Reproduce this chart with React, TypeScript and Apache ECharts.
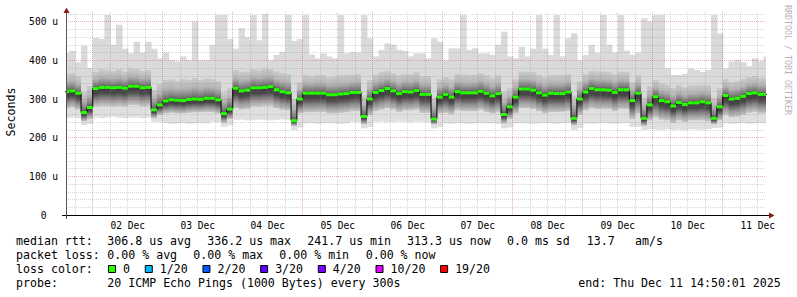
import React, { useEffect, useRef } from 'react';
import * as echarts from 'echarts';

// Time axis: hours since Dec 1 00:00 (2025). Graph spans Dec 1 14:50:01 .. Dec 11 14:50:01
const START_HOUR = 14.8336;
const END_HOUR = 254.8336;
const FIRST_BIN = 14; // first 2-hour bin starts Dec 1 14:00
const BIN_HOURS = 2;

// values in microseconds, one per 2-hour bin
const medianRtt = [
  319, 321, 315, 265, 278, 327, 330, 330, 329, 330, 328, 333, 333, 329, 330, 272, 285, 295, 298, 297, 296, 299, 300, 299, 302,
  302, 298, 262, 274, 328, 321, 323, 329, 329, 330, 332, 324, 319, 316, 244, 300, 315, 315, 315, 315, 311, 311, 313, 314,
  317, 317, 255, 300, 317, 322, 327, 321, 314, 319, 318, 322, 312, 312, 248, 305, 312, 305, 319, 316, 316, 316, 320, 315,
  308, 314, 260, 280, 305, 326, 326, 323, 316, 310, 315, 314, 314, 318, 250, 300, 318, 327, 324, 324, 323, 317, 324, 324,
  296, 315, 250, 285, 306, 296, 293, 282, 291, 286, 290, 290, 293, 290, 250, 280, 309, 300, 302, 307, 314, 316, 312, 312,
];
const maxRtt = [
  419, 425, 395, 438, 380, 458, 455, 517, 440, 492, 430, 418, 448, 420, 448, 430, 405, 420, 400, 397, 410, 400, 500, 400, 400,
  440, 517, 517, 455, 430, 483, 460, 517, 452, 520, 400, 414, 422, 517, 450, 455, 517, 415, 405, 418, 410, 405, 517, 418,
  422, 420, 517, 457, 410, 427, 444, 440, 427, 424, 410, 418, 418, 405, 457, 448, 400, 431, 431, 517, 427, 431, 418, 418,
  414, 440, 474, 410, 405, 435, 410, 430, 517, 430, 414, 517, 410, 457, 470, 400, 414, 440, 420, 517, 440, 420, 517, 425,
  414, 420, 509, 500, 517, 517, 380, 362, 362, 365, 379, 375, 370, 375, 517, 470, 379, 397, 401, 395, 385, 405, 398, 410,
];
const highRtt = [
  365, 368, 360, 320, 335, 372, 378, 375, 374, 378, 372, 380, 378, 374, 376, 325, 340, 350, 352, 348, 352, 350, 355, 350, 354,
  352, 348, 318, 330, 375, 370, 372, 378, 376, 380, 378, 372, 368, 365, 300, 345, 362, 360, 364, 362, 358, 360, 362, 362,
  364, 366, 310, 350, 364, 370, 374, 368, 362, 366, 366, 370, 360, 360, 305, 352, 358, 352, 366, 364, 362, 364, 368, 362,
  356, 362, 320, 330, 352, 372, 372, 370, 364, 358, 362, 362, 362, 366, 310, 348, 366, 374, 372, 372, 370, 365, 372, 370,
  345, 362, 305, 335, 350, 342, 338, 330, 338, 332, 336, 336, 338, 336, 305, 330, 352, 345, 348, 352, 358, 360, 356, 356,
];
const lowRtt = [
  275, 278, 272, 242, 248, 280, 282, 282, 280, 282, 280, 284, 284, 280, 282, 250, 258, 262, 264, 262, 262, 264, 265, 265, 266,
  265, 262, 238, 248, 276, 272, 274, 280, 280, 282, 282, 276, 272, 270, 230, 262, 265, 265, 266, 266, 262, 262, 264, 265,
  268, 268, 234, 258, 268, 272, 276, 272, 266, 270, 270, 272, 264, 264, 234, 262, 264, 260, 270, 268, 268, 268, 272, 266,
  262, 266, 236, 248, 262, 276, 276, 274, 268, 262, 266, 266, 266, 268, 232, 258, 270, 276, 274, 274, 274, 268, 274, 274,
  248, 262, 230, 244, 252, 246, 244, 238, 244, 240, 244, 244, 244, 242, 234, 244, 258, 252, 254, 258, 264, 266, 262, 262,
];
const minRtt = [
  250, 252, 250, 233, 236, 252, 250, 252, 254, 252, 250, 252, 252, 250, 252, 241, 241, 238, 236, 237, 238, 236, 237, 238, 237,
  241, 240, 228, 232, 246, 247, 245, 246, 247, 246, 245, 246, 247, 246, 220, 226, 237, 238, 236, 237, 238, 237, 236, 237,
  241, 240, 224, 228, 241, 242, 240, 241, 242, 241, 240, 242, 241, 240, 224, 228, 237, 236, 238, 237, 236, 237, 238, 237,
  237, 236, 224, 226, 237, 238, 237, 236, 237, 238, 237, 236, 237, 238, 220, 225, 237, 236, 237, 238, 237, 236, 237, 238,
  228, 228, 220, 222, 221, 220, 222, 220, 221, 220, 222, 221, 220, 222, 225, 226, 237, 236, 237, 238, 236, 237, 238, 237,
];

const dayLabels = ['02 Dec', '03 Dec', '04 Dec', '05 Dec', '06 Dec', '07 Dec', '08 Dec', '09 Dec', '10 Dec', '11 Dec'];
const yMajorTicks = [0, 100, 200, 300, 400, 500];
const Y_MAX = 525;

const lossLabels = ['0', '1/20', '2/20', '3/20', '4/20', '10/20', '19/20'];
const lossColors = ['#26ff00', '#00b8ff', '#0059ff', '#5e00ff', '#7e00ff', '#dd00ff', '#ff0000'];

const medianLine = ['median rtt:', '306.8 us avg', '336.2 us max', '241.7 us min', '313.3 us now', '0.0 ms sd', '13.7', 'am/s'];
const lossLine = ['packet loss:', '0.00 % avg', '0.00 % max', '0.00 % min', '0.00 % now'];
const lossColorTitle = 'loss color:';
const probeLine = ['probe:', '20 ICMP Echo Pings (1000 Bytes) every 300s', 'end: Thu Dec 11 14:50:01 2025'];

const MONO = 'DejaVu Sans Mono';

export default function App() {
  const ref = useRef<HTMLDivElement>(null);

  useEffect(() => {
    if (!ref.current) return;
    const chart = echarts.init(ref.current, null, { renderer: 'svg' });

    const rows = medianRtt.map((m, i) => [FIRST_BIN + i * BIN_HOURS, minRtt[i], lowRtt[i], m, highRtt[i], maxRtt[i]]);
    const medRows = medianRtt.map((m, i) => [FIRST_BIN + i * BIN_HOURS, m]);
    const stepData = medRows.slice();
    stepData.push([FIRST_BIN + medianRtt.length * BIN_HOURS, medianRtt[medianRtt.length - 1]]);

    const midnights: number[] = [];
    const sixHours: number[] = [];
    for (let h = 18; h <= END_HOUR; h += 6) {
      if (h % 24 === 0) midnights.push(h);
      else sixHours.push(h);
    }
    const noons = dayLabels.map((_, i) => 36 + i * 24);
    const yMinor: number[] = [];
    for (let v = 20; v < Y_MAX; v += 20) if (v % 100 !== 0) yMinor.push(v);

    const clipX = (params: any, a: number, b: number) => {
      const cs = params.coordSys;
      return [Math.max(a, cs.x), Math.min(b, cs.x + cs.width)];
    };

    const smokeRender = (params: any, api: any) => {
      const h = api.value(0);
      const mn = api.value(1), lo = api.value(2), md = api.value(3), hi = api.value(4), mx = api.value(5);
      const xa = api.coord([h, 0])[0];
      const xb = api.coord([h + BIN_HOURS, 0])[0];
      const [x0, x1] = clipX(params, xa, xb + 0.6);
      if (x1 <= x0) return null;
      const y = (v: number) => api.coord([h, v])[1];
      const yMx = y(mx), yHi = y(hi), yMd = y(md), yLo = y(lo), yMn = y(mn);
      const w = x1 - x0;
      let f = (yMd - yHi) / (yLo - yHi);
      f = Math.min(0.94, Math.max(0.06, f));
      const grad = {
        type: 'linear', x: 0, y: 0, x2: 0, y2: 1,
        colorStops: [
          { offset: 0, color: '#cccccc' },
          { offset: f * 0.45, color: '#b4b4b4' },
          { offset: f * 0.85, color: '#767676' },
          { offset: f, color: '#3a3a3a' },
          { offset: f + (1 - f) * 0.3, color: '#484848' },
          { offset: f + (1 - f) * 0.65, color: '#929292' },
          { offset: 1, color: '#c8c8c8' },
        ],
      };
      return {
        type: 'group',
        children: [
          { type: 'rect', shape: { x: x0, y: yMx, width: w, height: yHi - yMx }, style: { fill: '#dadada' } },
          { type: 'rect', shape: { x: x0, y: yLo, width: w, height: yMn - yLo }, style: { fill: '#dfdfdf' } },
          { type: 'rect', shape: { x: x0, y: yHi, width: w, height: yLo - yHi }, style: { fill: grad } },
        ],
      };
    };

    const greenRender = (params: any, api: any) => {
      const h = api.value(0);
      const xa = api.coord([h, 0])[0];
      const xb = api.coord([h + BIN_HOURS, 0])[0];
      const [x0, x1] = clipX(params, xa, xb);
      if (x1 <= x0) return null;
      const yMd = api.coord([h, api.value(1)])[1];
      return { type: 'rect', shape: { x: x0, y: yMd - 1.5, width: x1 - x0, height: 3 }, style: { fill: lossColors[0] } };
    };

    const legendFont = `11.6px "${MONO}"`;
    const txt = (text: string, x: number, y: number, extra: any = {}) => ({
      type: 'text', x, y, z: 20,
      style: {
        text, fill: '#000', font: legendFont,
        textAlign: 'left', align: 'left', textVerticalAlign: 'middle', verticalAlign: 'middle',
        ...extra,
      },
    });

    const graphics: any[] = [];
    // axis lines & arrows
    graphics.push({ type: 'line', z: 20, shape: { x1: 62, y1: 215.5, x2: 771, y2: 215.5 }, style: { stroke: '#000', lineWidth: 1 } });
    graphics.push({ type: 'polygon', z: 20, shape: { points: [[769, 212.5], [774.5, 215.5], [769, 218.5]] }, style: { fill: '#8b1a1a' } });
    graphics.push({ type: 'line', z: 20, shape: { x1: 66.5, y1: 219, x2: 66.5, y2: 12 }, style: { stroke: '#555', lineWidth: 1 } });
    graphics.push({ type: 'polygon', z: 20, shape: { points: [[63.5, 13], [66.5, 7.5], [69.5, 13]] }, style: { fill: '#8b1a1a' } });

    // unit label and watermark
    graphics.push({
      type: 'text', x: 11, y: 112, rotation: Math.PI / 2, z: 20,
      style: { text: 'Seconds', fill: '#000', font: legendFont, textAlign: 'center', align: 'center', textVerticalAlign: 'middle', verticalAlign: 'middle' },
    });
    graphics.push({
      type: 'text', x: 788, y: 60, rotation: -Math.PI / 2, z: 20,
      style: { text: 'RRDTOOL / TOBI OETIKER', fill: '#b4b4b4', font: `8.3px "${MONO}"`, textAlign: 'center', align: 'center', textVerticalAlign: 'middle', verticalAlign: 'middle' },
    });

    // legend rows
    const row1X = [16, 107.3, 207.3, 307.3, 407, 507, 586.7, 635];
    medianLine.forEach((t, i) => graphics.push(txt(t, row1X[i], 241)));
    const row2X = [16, 107.3, 193.3, 279.3, 365.7];
    lossLine.forEach((t, i) => graphics.push(txt(t, row2X[i], 255)));
    graphics.push(txt(lossColorTitle, 16, 269));
    let bx = 108;
    lossLabels.forEach((lab, i) => {
      graphics.push({
        type: 'rect', z: 20,
        shape: { x: bx + 0.5, y: 265.5, width: 7, height: 7 },
        style: { fill: lossColors[i], stroke: '#000', lineWidth: 1 },
      });
      graphics.push(txt(lab, bx + 15, 269));
      bx += 15 + lab.length * 6.97 + 14.8;
    });
    const row4X = [16, 107.3, 578.3];
    probeLine.forEach((t, i) => graphics.push(txt(t, row4X[i], 283)));

    const gridLine = (color: string) => ({ show: true, lineStyle: { color, type: [1, 1], width: 1 } });
    const MAJOR = 'rgba(205, 70, 70, 0.42)';
    const MINOR = 'rgba(130, 130, 130, 0.32)';

    chart.setOption({
      animation: false,
      backgroundColor: '#ffffff',
      grid: { left: 66, top: 12, width: 700, height: 203, containLabel: false, outerBoundsMode: 'none' } as any,
      xAxis: [
        {
          type: 'value', min: START_HOUR, max: END_HOUR, z: 2,
          axisLine: { show: false },
          axisTick: { show: false, customValues: midnights },
          axisLabel: {
            customValues: noons,
            formatter: (v: number) => dayLabels[Math.round((v - 36) / 24)] ?? '',
            margin: 5, color: '#000', fontFamily: MONO, fontSize: 9.6,
          },
          splitLine: gridLine(MAJOR),
        },
        {
          type: 'value', min: START_HOUR, max: END_HOUR, z: 2, position: 'bottom',
          axisLine: { show: false },
          axisTick: { show: false, customValues: sixHours },
          axisLabel: { show: false },
          splitLine: gridLine(MINOR),
        },
      ],
      yAxis: [
        {
          type: 'value', min: 0, max: Y_MAX, z: 2,
          axisLine: { show: false },
          axisTick: { show: false, customValues: yMajorTicks },
          axisLabel: {
            customValues: yMajorTicks,
            formatter: (v: number) => (v === 0 ? '0\u00a0\u00a0' : `${v} u`),
            margin: 8, color: '#000', fontFamily: MONO, fontSize: 9.6,
          },
          splitLine: gridLine(MAJOR),
        },
        {
          type: 'value', min: 0, max: Y_MAX, z: 2, position: 'left',
          axisLine: { show: false },
          axisTick: { show: false, customValues: yMinor },
          axisLabel: { show: false },
          splitLine: gridLine(MINOR),
        },
      ],
      series: [
        {
          type: 'custom', name: 'smoke', renderItem: smokeRender, data: rows,
          encode: { x: 0, y: [1, 2, 3, 4, 5] }, z: 1, silent: true, clip: true,
        },
        {
          type: 'line', name: 'median step', data: stepData, step: 'end', symbol: 'none',
          lineStyle: { color: '#000', width: 1 }, z: 3, silent: true,
        },
        {
          type: 'custom', name: 'median', renderItem: greenRender, data: medRows,
          encode: { x: 0, y: 1 }, z: 4, silent: true, clip: true,
        },
      ],
      graphic: graphics,
    });

    return () => chart.dispose();
  }, []);

  return (
    <div
      ref={ref}
      style={{ position: 'absolute', left: 0, top: 0, width: 797, height: 297, background: '#fff' }}
    />
  );
}
